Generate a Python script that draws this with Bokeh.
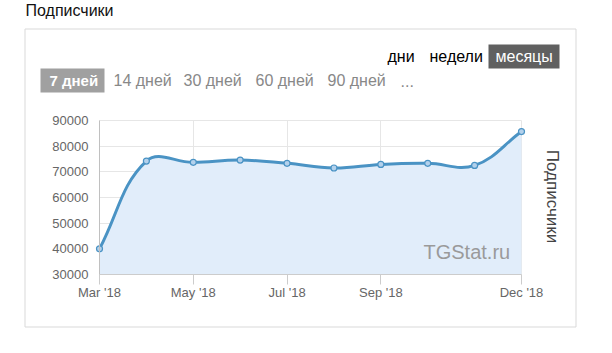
import math
from bokeh.plotting import figure
from bokeh.models import Label, BoxAnnotation, FixedTicker, Range1d, ColumnDataSource, LinearAxis
from bokeh.embed import file_html
from bokeh.resources import INLINE

# ---- data ----
months = ["Mar '18", "Apr '18", "May '18", "Jun '18", "Jul '18",
          "Aug '18", "Sep '18", "Oct '18", "Nov '18", "Dec '18"]
subscribers = [40000, 74200, 73700, 74600, 73300, 71500, 72900, 73300, 72500, 85700]
x_tick_idx = [0, 2, 4, 6, 9]
y_ticks = [30000, 40000, 50000, 60000, 70000, 80000, 90000]
y_min, y_max = 30000, 90000
range_buttons = ["7 дней", "14 дней", "30 дней", "60 дней", "90 дней", "..."]
period_buttons = ["дни", "недели", "месяцы"]
axis_title = "Подписчики"
header = "Подписчики"
watermark = "TGStat.ru"

# ---- layout constants (canvas px) ----
W, H = 612, 353
CL, CR, CT, CB = 24, 575, 28, 326          # outer card
FL, FR, FT, FB = 99, 521, 120, 274         # plotting area inside the card
FW, FH = FR - FL, FB - FT
FONT = "Liberation Sans"

x_lo, x_hi = 0, len(subscribers) - 1
xs = list(range(len(subscribers)))
ux = FW / (x_hi - x_lo)
uy = FH / (y_max - y_min)
# figure frame covers the whole canvas; ranges place data in the plotting area
x_range = Range1d(x_lo - FL / ux, x_hi + (W - FR) / ux)
y_range = Range1d(y_min - (H - FB) / uy, y_max + FT / uy)

p = figure(width=W, height=H, output_backend="svg", toolbar_location=None,
           x_range=x_range, y_range=y_range,
           x_axis_location=None, y_axis_location=None,
           min_border_left=0, min_border_right=0,
           min_border_top=0, min_border_bottom=0)
p.title.visible = False
p.outline_line_color = None
p.background_fill_color = "white"
p.border_fill_color = "white"

# ---- smooth curve (tension spline computed in pixel space) ----
def to_px(x, y):
    return ((x - x_lo) * ux, (y - y_min) * uy)

def from_px(px, py):
    return (px / ux + x_lo, py / uy + y_min)

pts = [to_px(x, y) for x, y in zip(xs, subscribers)]
tension = 0.4
ctrl_prev, ctrl_next = [], []
n = len(pts)
for i in range(n):
    prev = pts[i - 1] if i > 0 else pts[i]
    cur = pts[i]
    nxt = pts[i + 1] if i < n - 1 else pts[i]
    d01 = math.hypot(cur[0] - prev[0], cur[1] - prev[1])
    d12 = math.hypot(nxt[0] - cur[0], nxt[1] - cur[1])
    tot = d01 + d12
    s01 = d01 / tot if tot else 0
    s12 = d12 / tot if tot else 0
    fa, fb = tension * s01, tension * s12
    ctrl_prev.append((cur[0] - fa * (nxt[0] - prev[0]), cur[1] - fa * (nxt[1] - prev[1])))
    ctrl_next.append((cur[0] + fb * (nxt[0] - prev[0]), cur[1] + fb * (nxt[1] - prev[1])))

bz = dict(x0=[], y0=[], x1=[], y1=[], cx0=[], cy0=[], cx1=[], cy1=[])
curve_x, curve_y = [], []
for i in range(n - 1):
    P0, C1, C2, P3 = pts[i], ctrl_next[i], ctrl_prev[i + 1], pts[i + 1]
    for key, pt in (("0", P0), ("1", P3)):
        dx, dy = from_px(*pt)
        bz["x" + key].append(dx); bz["y" + key].append(dy)
    for key, pt in (("0", C1), ("1", C2)):
        dx, dy = from_px(*pt)
        bz["cx" + key].append(dx); bz["cy" + key].append(dy)
    steps = 24
    for k in range(steps + (1 if i == n - 2 else 0)):
        t = k / steps
        a, b, c, d = (1 - t) ** 3, 3 * (1 - t) ** 2 * t, 3 * (1 - t) * t ** 2, t ** 3
        px = a * P0[0] + b * C1[0] + c * C2[0] + d * P3[0]
        py = a * P0[1] + b * C1[1] + c * C2[1] + d * P3[1]
        dx, dy = from_px(px, py)
        curve_x.append(dx); curve_y.append(dy)

# ---- grid (limited to plotting area) ----
p.xgrid.ticker = FixedTicker(ticks=x_tick_idx)
p.ygrid.ticker = FixedTicker(ticks=y_ticks)
p.xgrid.grid_line_color = "#e6e6e6"
p.ygrid.grid_line_color = "#e6e6e6"
p.xgrid.bounds = (x_lo, x_hi)
p.xgrid.cross_bounds = (y_min, y_max)
p.ygrid.bounds = (y_min, y_max)
p.ygrid.cross_bounds = (x_lo, x_hi)

LINE = "#4a93c4"
p.patch(curve_x + [curve_x[-1], curve_x[0]], curve_y + [y_min, y_min],
        fill_color="#e1edfa", line_color=None)
p.bezier(x0="x0", y0="y0", x1="x1", y1="y1", cx0="cx0", cy0="cy0", cx1="cx1", cy1="cy1",
         source=ColumnDataSource(bz), line_color=LINE, line_width=3)
p.scatter(xs, subscribers, size=6, fill_color="#b3d1ec", line_color=LINE, line_width=1.2)

# ---- axes placed at the plotting area edges ----
xaxis = LinearAxis(fixed_location=y_min, bounds=(x_lo, x_hi),
                   ticker=FixedTicker(ticks=x_tick_idx),
                   major_label_overrides={i: months[i] for i in x_tick_idx},
                   axis_line_color="#cccccc", major_tick_line_color="#cccccc",
                   major_tick_in=0, major_tick_out=10, minor_tick_line_color=None,
                   major_label_standoff=0, major_label_text_font=FONT,
                   major_label_text_font_size="13px", major_label_text_color="#666666")
p.add_layout(xaxis, "below")

yaxis = LinearAxis(fixed_location=x_lo, bounds=(y_min, y_max),
                   ticker=FixedTicker(ticks=y_ticks),
                   axis_line_color="#c0c0c0", major_tick_line_color=None,
                   minor_tick_line_color=None, major_tick_in=0, major_tick_out=0,
                   major_label_standoff=11, major_label_text_font=FONT,
                   major_label_text_font_size="13px", major_label_text_color="#666666")
p.add_layout(yaxis, "left")

# ---- page decorations (screen units; frame == canvas) ----
def sx(X):
    return X

def sy(Y):
    return H - Y

def box(l, t, r, b, fill=None, line=None):
    p.add_layout(BoxAnnotation(left=sx(l), right=sx(r), top=sy(t), bottom=sy(b),
                               left_units="screen", right_units="screen",
                               top_units="screen", bottom_units="screen",
                               fill_color=fill, fill_alpha=1 if fill else 0,
                               line_color=line, line_alpha=1,
                               line_width=1 if line else 0))

def text(X, Y, s, size, color, style="normal", align="left", baseline="middle", angle=0):
    p.add_layout(Label(x=sx(X), y=sy(Y), x_units="screen", y_units="screen", text=s,
                       text_font=FONT, text_font_size=size, text_color=color,
                       text_font_style=style, text_align=align, text_baseline=baseline,
                       angle=angle))

box(CL + 0.5, CT + 0.5, CR + 0.5, CB + 0.5, line="#d9d9d9")
box(488, 44, 559, 68, fill="#606060")
box(40, 68, 104, 92, fill="#a0a0a0")

text(25, 10, header, "16px", "#111111")
for label, X, col in zip(period_buttons, [387, 429, 495], ["#000000", "#000000", "#ffffff"]):
    text(X, 56, label, "16px", col)
range_x = [49, 113, 183, 255, 327, 400]
for i, (label, X) in enumerate(zip(range_buttons, range_x)):
    if i == 0:
        text(X, 80, label, "15px", "#ffffff", style="bold")
    else:
        text(X, 80, label, "16px", "#888888")

text(423, 251, watermark, "20px", "#9a9a9a")
text(552, 196, axis_title, "17px", "#444444", align="center", angle=-math.pi / 2)

open("out.html", "w").write(file_html(p, INLINE))
